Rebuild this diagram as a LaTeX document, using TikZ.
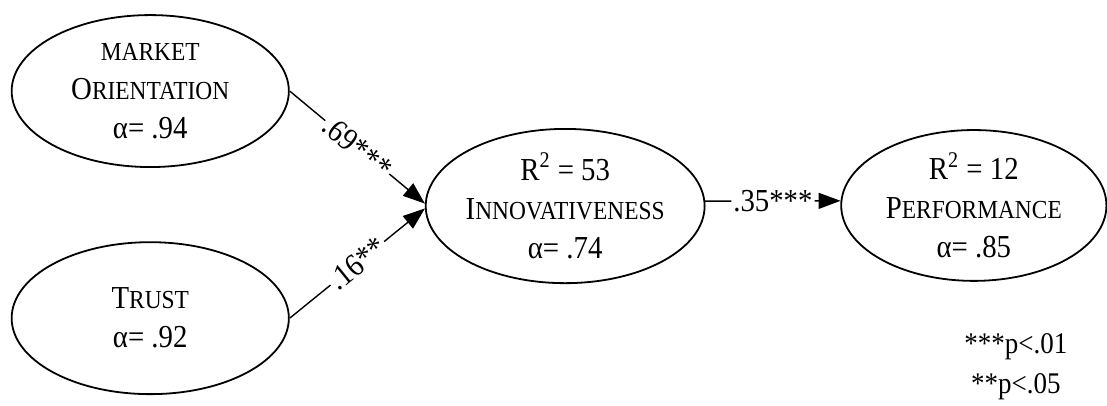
\documentclass[tikz,border=0pt]{standalone}
\usepackage{fontspec}
\setmainfont[FakeStretch=0.9]{Liberation Serif}
\usepackage{tikz}
\usetikzlibrary{arrows.meta,shapes.geometric}
\newcommand{\smcap}[1]{{\fontsize{13}{19.5}\selectfont #1}}

\begin{document}
\begin{tikzpicture}[
    latent/.style={draw,ellipse,line width=0.9pt,inner sep=0pt},
    vartext/.style={align=center,inner sep=0pt,font=\fontsize{16}{19.5}\selectfont},
    coefedge/.style={-{Triangle[length=11pt,width=8pt]},line width=0.7pt},
    coeflbl/.style={midway,sloped,fill=white,inner sep=1pt,font=\fontsize{16}{19.5}\selectfont}]
  \useasboundingbox (0,0) rectangle (19.45,7.12);
  \node[latent,minimum width=4.87cm,minimum height=2.67cm] (mo) at (2.64,5.52) {};
  \node[vartext] (mo-t) at (mo) {\smcap{MARKET}\\O\smcap{RIENTATION}\\α= .94};
  \node[latent,minimum width=4.87cm,minimum height=2.67cm] (tr) at (2.64,1.53) {};
  \node[vartext] (tr-t) at (tr) {T\smcap{RUST}\\α= .92};
  \node[latent,minimum width=4.90cm,minimum height=2.71cm] (inn) at (9.93,3.50) {};
  \node[vartext] (inn-t) at (inn) {R\textsuperscript{2} = 53\\I\smcap{NNOVATIVENESS}\\α= .74};
  \node[latent,minimum width=4.66cm,minimum height=2.65cm] (pf) at (17.11,3.51) {};
  \node[vartext] (pf-t) at (pf) {R\textsuperscript{2} = 12\\P\smcap{ERFORMANCE}\\α= .85};
  \draw[coefedge] (mo.east) -- node[coeflbl] (c1) {.69***} (inn.179);
  \draw[coefedge] (tr.east) -- node[coeflbl] (c2) {.16**} (inn.181);
  \draw[coefedge] (inn.2) -- node[coeflbl] (c3) {.35***} (pf.178);
  \node[vartext,font=\fontsize{15}{20}\selectfont] (note) at (17.85,0.68) {***p<.01\\**p<.05};
\end{tikzpicture}
\end{document}
